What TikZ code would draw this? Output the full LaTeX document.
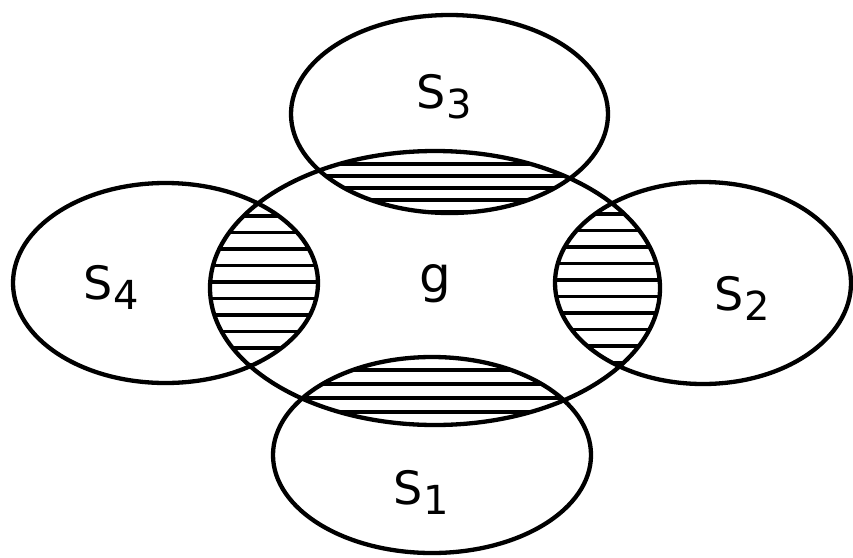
\documentclass[tikz,border=0pt]{standalone}
\usepackage{fontspec}
\setsansfont{DejaVu Sans}
\newcommand{\lbl}[2]{\fontsize{46}{50}\selectfont\sffamily #1\hspace{1pt}\raisebox{-0.22em}{\fontsize{40}{44}\selectfont #2}}
\begin{document}
\begin{tikzpicture}[x=1pt,y=-1pt,
  outline/.style={line width=4.3pt},
  hatch/.style={line width=3.8pt},
  lab/.style={inner sep=0pt, font=\sffamily}]
\useasboundingbox (0,0) rectangle (853,557);
% hatching: top lens (g and S3)
\begin{scope}
  \clip (435,288) ellipse [x radius=225, y radius=137];
  \clip (449.5,114) ellipse [x radius=158.5, y radius=99];
  \foreach \yy in {164,176,...,212} \draw[hatch] (250,\yy) -- (650,\yy);
\end{scope}
% bottom lens (g and S1)
\begin{scope}
  \clip (435,288) ellipse [x radius=225, y radius=137];
  \clip (432,455) ellipse [x radius=159, y radius=98];
  \foreach \yy in {370,384,...,428} \draw[hatch] (250,\yy) -- (650,\yy);
\end{scope}
% left lens (g and S4)
\begin{scope}
  \clip (435,288) ellipse [x radius=225, y radius=137];
  \clip (165.5,283) ellipse [x radius=152.5, y radius=100];
  \foreach \yy in {216,232.5,...,370} \draw[hatch] (180,\yy) -- (340,\yy);
\end{scope}
% right lens (g and S2)
\begin{scope}
  \clip (435,288) ellipse [x radius=225, y radius=137];
  \clip (703,283) ellipse [x radius=148, y radius=101];
  \foreach \yy in {214,230.5,...,370} \draw[hatch] (530,\yy) -- (680,\yy);
\end{scope}
% outlines
\draw[outline] (435,288) ellipse [x radius=225, y radius=137];
\draw[outline] (449.5,114) ellipse [x radius=158.5, y radius=99];
\draw[outline] (432,455) ellipse [x radius=159, y radius=98];
\draw[outline] (165.5,283) ellipse [x radius=152.5, y radius=100];
\draw[outline] (703,283) ellipse [x radius=148, y radius=101];
% labels
\node[lab] (g)  at (435,284) {\fontsize{50}{54}\selectfont g};
\node[lab] (s3) at (444,97)  {\lbl{S}{3}};
\node[lab] (s4) at (111,287) {\lbl{S}{4}};
\node[lab] (s2) at (742,298) {\lbl{S}{2}};
\node[lab] (s1) at (421,492) {\lbl{S}{1}};
\end{tikzpicture}
\end{document}
